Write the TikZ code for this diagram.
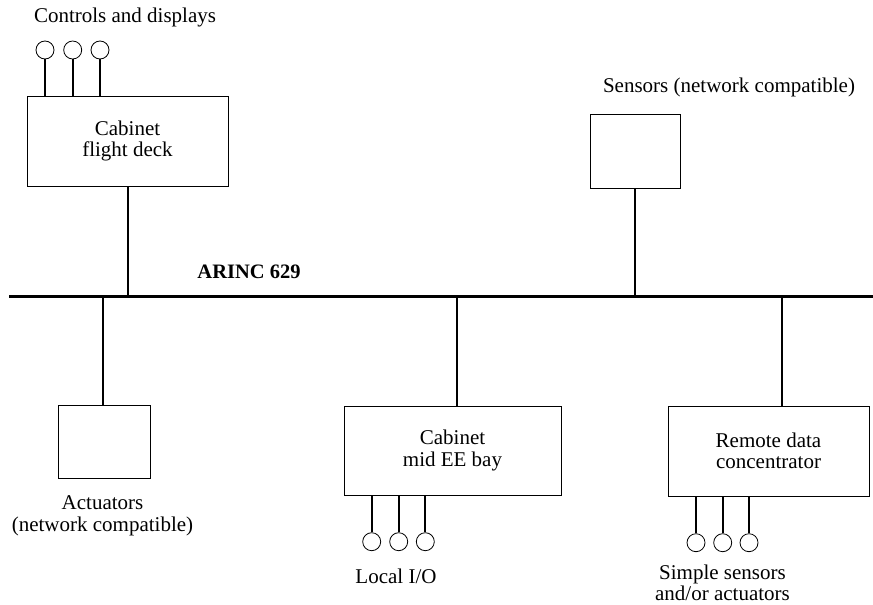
\documentclass[tikz,border=0pt]{standalone}
\usepackage{fontspec}
\setmainfont{Liberation Serif}
\begin{document}
\begin{tikzpicture}[x=1pt,y=-1pt,
  box/.style={draw,line width=0.8pt,align=center,inner sep=0pt,font=\fontsize{21}{21.5}\selectfont},
  lbl/.style={align=center,inner sep=0pt,font=\fontsize{21}{21.5}\selectfont},
  io/.style={draw,circle,line width=0.8pt,minimum size=18pt,inner sep=0pt},
  link/.style={line width=1.8pt},
  bus/.style={line width=3.5pt}]
\useasboundingbox (0,0) rectangle (873,605);

% bus
\coordinate (busL) at (9,296.7);
\coordinate (busR) at (873,296.7);
\draw[bus] (busL) -- (busR);
\node[lbl,font=\bfseries\fontsize{20.5}{21}\selectfont] (arinc) at (249,271.5) {ARINC 629};

% boxes
\node[box,minimum width=201pt,minimum height=90pt] (fd) at (127.5,141) {Cabinet\\flight deck};
\node[box,minimum width=90pt,minimum height=74pt] (sen) at (635,151) {};
\node[box,minimum width=92pt,minimum height=73pt] (act) at (104,441.5) {};
\node[box,minimum width=217pt,minimum height=89pt] (mid) at (452.5,450.5) {Cabinet\\mid EE bay};
\node[box,minimum width=201pt,minimum height=90pt] (rdc) at (768.5,451) {Remote data\\concentrator};

% taps to bus
\coordinate (fdtap) at ([xshift=0.5pt]fd.south);
\coordinate (midtap) at ([xshift=4.5pt]mid.north);
\coordinate (rdctap) at ([xshift=13.5pt]rdc.north);
\coordinate (acttap) at ([xshift=-1pt]act.north);
\draw[link] (fdtap) -- (fdtap |- busL);
\draw[link] (sen.south) -- (sen.south |- busL);
\draw[link] (acttap) -- (acttap |- busL);
\draw[link] (midtap) -- (midtap |- busL);
\draw[link] (rdctap) -- (rdctap |- busL);

% controls and displays
\node[io] (c1) at (45,50) {};
\node[io] (c2) at (72.7,50) {};
\node[io] (c3) at (100,50) {};
\foreach \c in {c1,c2,c3} \draw[link] (\c.south) -- (\c.south |- fd.north);

% local I/O
\node[io] (m1) at (371.7,541.7) {};
\node[io] (m2) at (398.7,541.7) {};
\node[io] (m3) at (425.3,541.7) {};
\foreach \c in {m1,m2,m3} \draw[link] (\c.north |- mid.south) -- (\c.north);

% simple sensors
\node[io] (r1) at (696,542.7) {};
\node[io] (r2) at (722.7,542.7) {};
\node[io] (r3) at (749,542.7) {};
\foreach \c in {r1,r2,r3} \draw[link] (\c.north |- rdc.south) -- (\c.north);

% labels
\node[lbl] (lcd) at (125,17) {Controls and displays};
\node[lbl] (lsen) at (729,87) {Sensors (network compatible)};
\node[lbl] (lact) at (102.5,516) {Actuators\\(network compatible)};
\node[lbl] (lio) at (396,576) {Local I/O};
\node[lbl,font=\fontsize{21}{21}\selectfont] (lss) at (722.5,583) {Simple sensors\\and/or actuators};
\end{tikzpicture}
\end{document}
